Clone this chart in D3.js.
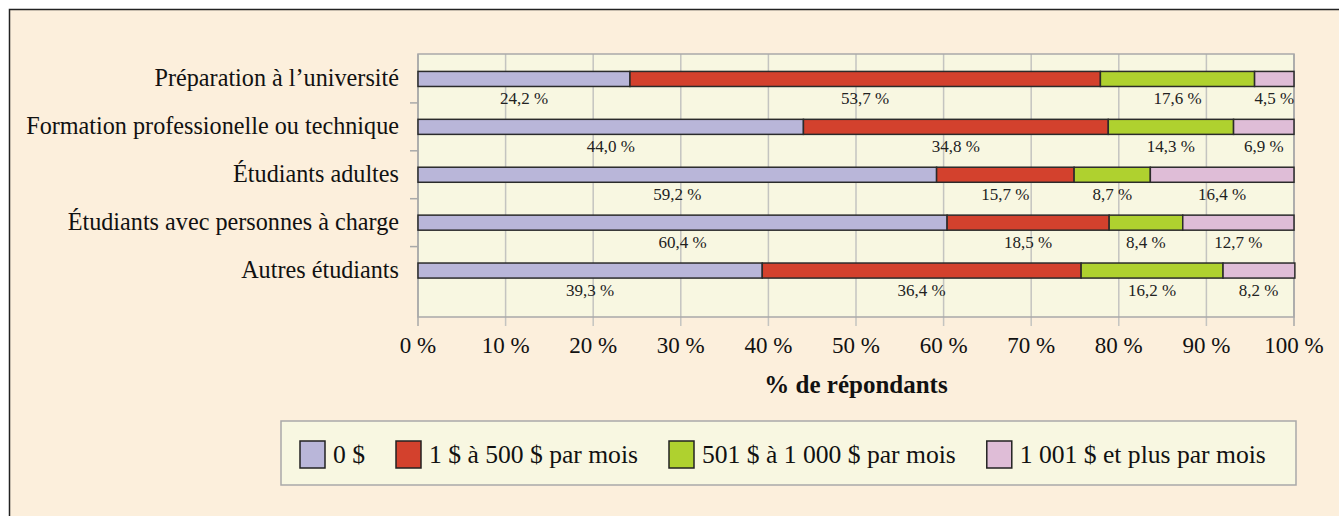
<!DOCTYPE html>
<html>
<head>
<meta charset="utf-8">
<script src="https://cdn.jsdelivr.net/npm/d3@7"></script>
<style>
  html, body { margin: 0; padding: 0; background: #fff; }
  svg { display: block; }
</style>
</head>
<body>
<div id="chart"></div>
<script>
// Stacked 100% bars - monthly amounts by student group

const categories = [
  "Préparation à l’université",
  "Formation professionelle ou technique",
  "Étudiants adultes",
  "Étudiants avec personnes à charge",
  "Autres étudiants"
];

const seriesNames = [
  "0 $",
  "1 $ à 500 $ par mois",
  "501 $ à 1 000 $ par mois",
  "1 001 $ et plus par mois"
];

// one array per series, in category order
const zeroDollar  = [24.2, 44.0, 59.2, 60.4, 39.3];
const upTo500     = [53.7, 34.8, 15.7, 18.5, 36.4];
const upTo1000    = [17.6, 14.3,  8.7,  8.4, 16.2];
const over1000    = [ 4.5,  6.9, 16.4, 12.7,  8.2];

const xTicks = [0, 10, 20, 30, 40, 50, 60, 70, 80, 90, 100];
const axisTitle = "% de répondants";

const colors = ["#b9b6d9", "#d3412d", "#afd12f", "#dfbdd7"];

const width = 1339, height = 516;
const plot = { left: 418, right: 1294, top: 54, bottom: 317 };
const serif = "'Liberation Serif', 'Times New Roman', serif";
const fmt = v => d3.format(".1f")(v).replace(".", ",") + " %";

const svg = d3.select("#chart").append("svg")
  .attr("width", width)
  .attr("height", height);

// page background + frame
svg.append("rect")
  .attr("x", 9).attr("y", 9)
  .attr("width", width - 9).attr("height", height - 9)
  .attr("fill", "#fcefdc");

svg.append("path")
  .attr("d", `M9.5,${height} V9.5 H${width}`)
  .attr("fill", "none")
  .attr("stroke", "#222")
  .attr("stroke-width", 1.5);

// stack the data
const rows = categories.map((c, i) => ({
  cat: c,
  s0: zeroDollar[i], s1: upTo500[i], s2: upTo1000[i], s3: over1000[i]
}));
const keys = ["s0", "s1", "s2", "s3"];
const stacked = d3.stack().keys(keys)(rows);

// scales
const x = d3.scaleLinear().domain([0, 100]).range([plot.left, plot.right]);
const bandStep = 47.9;
const y = d3.scaleBand()
  .domain(categories)
  .range([plot.top + 1, plot.top + 1 + bandStep * categories.length])
  .paddingInner(0.686)
  .paddingOuter(0.343);

// plot area
svg.append("rect")
  .attr("x", plot.left).attr("y", plot.top)
  .attr("width", plot.right - plot.left).attr("height", plot.bottom - plot.top)
  .attr("fill", "#f8f7e1");

// vertical gridlines + bottom ticks
svg.append("g")
  .selectAll("line")
  .data(xTicks)
  .join("line")
  .attr("x1", d => x(d)).attr("x2", d => x(d))
  .attr("y1", plot.top).attr("y2", plot.bottom + 9)
  .attr("stroke", d => (d === 0 || d === 100) ? "#a9a9a9" : "#c4c4c0")
  .attr("stroke-width", 1.5);

// plot border
svg.append("rect")
  .attr("x", plot.left).attr("y", plot.top)
  .attr("width", plot.right - plot.left).attr("height", plot.bottom - plot.top)
  .attr("fill", "none")
  .attr("stroke", "#a9a9a9")
  .attr("stroke-width", 1.5);

// left ticks between categories
svg.append("g")
  .selectAll("line")
  .data(categories.slice(1))
  .join("line")
  .attr("x1", plot.left - 8).attr("x2", plot.left)
  .attr("y1", d => y(d) - y.step() * y.paddingInner() / 2)
  .attr("y2", d => y(d) - y.step() * y.paddingInner() / 2)
  .attr("stroke", "#a9a9a9")
  .attr("stroke-width", 1.5);

// bars
const barG = svg.append("g");
stacked.forEach((layer, si) => {
  barG.append("g")
    .selectAll("rect")
    .data(layer)
    .join("rect")
    .attr("x", d => x(d[0]))
    .attr("y", d => y(d.data.cat))
    .attr("width", d => x(d[1]) - x(d[0]))
    .attr("height", y.bandwidth())
    .attr("fill", colors[si])
    .attr("stroke", "#2b2b2b")
    .attr("stroke-width", 1.5);
});

// data labels under each segment
const labelG = svg.append("g");
stacked.forEach((layer, si) => {
  labelG.append("g")
    .selectAll("text")
    .data(layer)
    .join("text")
    .attr("x", d => x((d[0] + Math.min(d[1], 100)) / 2))
    .attr("y", d => y(d.data.cat) + y.bandwidth() + 18)
    .attr("text-anchor", "middle")
    .style("font-family", serif)
    .style("font-size", "17px")
    .style("fill", "#222")
    .text(d => fmt(d.data[keys[si]]));
});

// category labels
svg.append("g")
  .selectAll("text")
  .data(categories)
  .join("text")
  .attr("x", 399)
  .attr("y", d => y(d) + y.bandwidth() / 2 + 7)
  .attr("text-anchor", "end")
  .style("font-family", serif)
  .style("font-size", "24.2px")
  .style("fill", "#111")
  .text(d => d);

// x tick labels
svg.append("g")
  .selectAll("text")
  .data(xTicks)
  .join("text")
  .attr("x", d => x(d))
  .attr("y", 353)
  .attr("text-anchor", "middle")
  .style("font-family", serif)
  .style("font-size", "23px")
  .style("fill", "#111")
  .text(d => d + " %");

// axis title
svg.append("text")
  .attr("x", (plot.left + plot.right) / 2)
  .attr("y", 393)
  .attr("text-anchor", "middle")
  .style("font-family", serif)
  .style("font-size", "25px")
  .style("font-weight", "bold")
  .style("fill", "#111")
  .text(axisTitle);

// legend
const legend = { x: 281, y: 421, w: 1015, h: 64 };
svg.append("rect")
  .attr("x", legend.x).attr("y", legend.y)
  .attr("width", legend.w).attr("height", legend.h)
  .attr("fill", "#f8f7e1")
  .attr("stroke", "#a9a9a9")
  .attr("stroke-width", 1.5);

const legendG = svg.append("g");
let lx = 300;
seriesNames.forEach((name, i) => {
  legendG.append("rect")
    .attr("x", lx).attr("y", 441)
    .attr("width", 25).attr("height", 27)
    .attr("fill", colors[i])
    .attr("stroke", "#222")
    .attr("stroke-width", 1.5);
  const t = legendG.append("text")
    .attr("x", lx + 33).attr("y", 463)
    .style("font-family", serif)
    .style("font-size", "25.6px")
    .style("fill", "#111")
    .text(name);
  lx += 33 + t.node().getComputedTextLength() + 31;
});
</script>
</body>
</html>
